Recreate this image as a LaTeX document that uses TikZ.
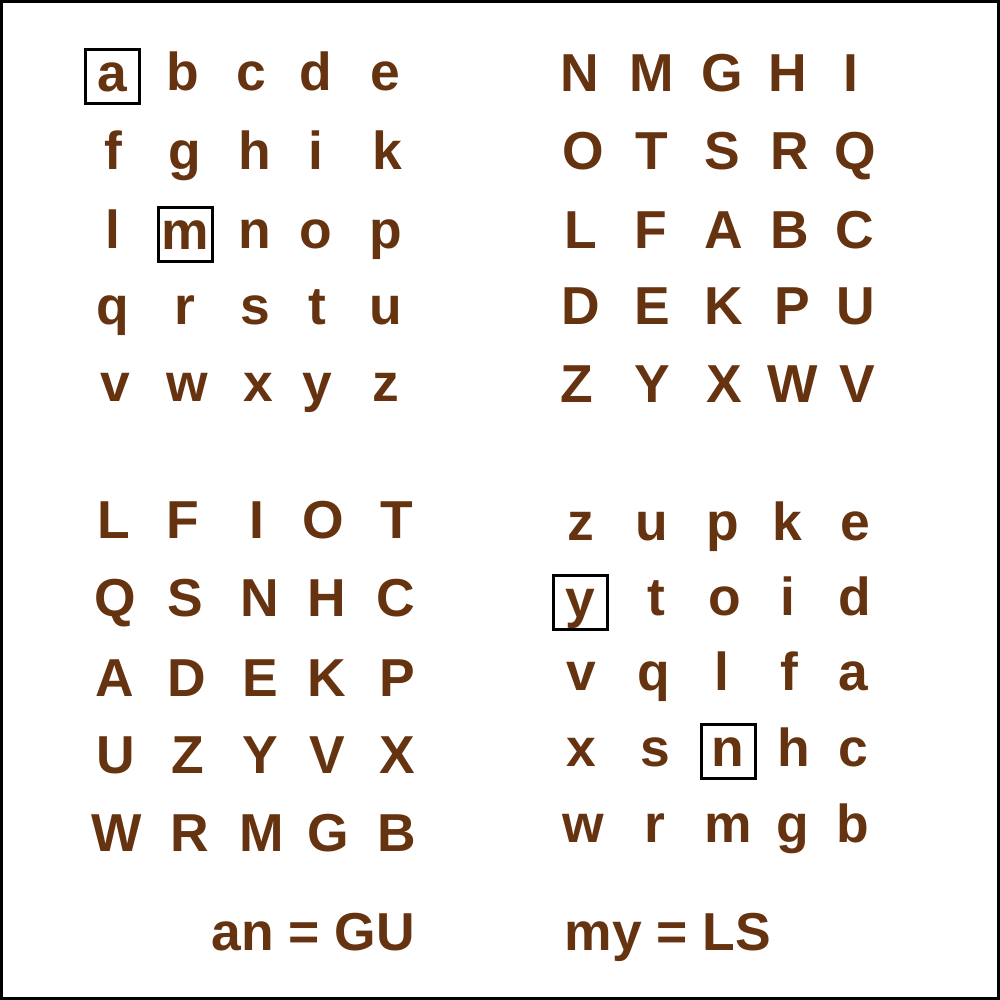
\documentclass[tikz,border=0pt]{standalone}
\usepackage{fontspec}
\setmainfont{Liberation Sans}
\usepackage{tikz}
\definecolor{cipher}{RGB}{102,51,17}
\tikzset{letter/.style={anchor=base,inner sep=0pt,text height=0.34cm,text depth=0.04cm,
   text=cipher,font=\bfseries\fontsize{15.2}{18}\selectfont},
 keybox/.style={draw=black,line width=0.3mm,minimum size=0.54cm},
 every picture/.style={line join=miter}}

\begin{document}
\begin{tikzpicture}[]
\useasboundingbox (0,0) rectangle (10,10);
\draw[line width=0.3mm] (0.015,0.015) rectangle (9.985,9.985);
% plain square, top left
\node[letter,keybox] (tla) at (1.12,9.08) {a};
\node[letter] (tlb) at (1.83,9.09) {b};
\node[letter] (tlc) at (2.51,9.09) {c};
\node[letter] (tld) at (3.16,9.09) {d};
\node[letter] (tle) at (3.85,9.09) {e};
\node[letter] (tlf) at (1.13,8.30) {f};
\node[letter] (tlg) at (1.85,8.30) {g};
\node[letter] (tlh) at (2.55,8.30) {h};
\node[letter] (tli) at (3.16,8.30) {i};
\node[letter] (tlk) at (3.87,8.30) {k};
\node[letter] (tll) at (1.13,7.51) {l};
\node[letter,keybox] (tlm) at (1.85,7.50) {m};
\node[letter] (tln) at (2.55,7.51) {n};
\node[letter] (tlo) at (3.16,7.51) {o};
\node[letter] (tlp) at (3.86,7.51) {p};
\node[letter] (tlq) at (1.13,6.75) {q};
\node[letter] (tlr) at (1.85,6.75) {r};
\node[letter] (tls) at (2.55,6.75) {s};
\node[letter] (tlt) at (3.17,6.75) {t};
\node[letter] (tlu) at (3.86,6.75) {u};
\node[letter] (tlv) at (1.15,5.98) {v};
\node[letter] (tlw) at (1.87,5.98) {w};
\node[letter] (tlx) at (2.58,5.98) {x};
\node[letter] (tly) at (3.17,5.98) {y};
\node[letter] (tlz) at (3.86,5.98) {z};
% key square, top right
\node[letter] (trN) at (5.80,9.08) {N};
\node[letter] (trM) at (6.52,9.08) {M};
\node[letter] (trG) at (7.22,9.08) {G};
\node[letter] (trH) at (7.88,9.08) {H};
\node[letter] (trI) at (8.51,9.08) {I};
\node[letter] (trO) at (5.83,8.30) {O};
\node[letter] (trT) at (6.52,8.30) {T};
\node[letter] (trS) at (7.22,8.30) {S};
\node[letter] (trR) at (7.90,8.30) {R};
\node[letter] (trQ) at (8.55,8.30) {Q};
\node[letter] (trL) at (5.81,7.51) {L};
\node[letter] (trF) at (6.51,7.51) {F};
\node[letter] (trA) at (7.24,7.51) {A};
\node[letter] (trB) at (7.90,7.51) {B};
\node[letter] (trC) at (8.55,7.51) {C};
\node[letter] (trD) at (5.81,6.75) {D};
\node[letter] (trE) at (6.52,6.75) {E};
\node[letter] (trK) at (7.24,6.75) {K};
\node[letter] (trP) at (7.92,6.75) {P};
\node[letter] (trU) at (8.56,6.75) {U};
\node[letter] (trZ) at (5.77,5.97) {Z};
\node[letter] (trY) at (6.52,5.97) {Y};
\node[letter] (trX) at (7.24,5.97) {X};
\node[letter] (trW) at (7.93,5.97) {W};
\node[letter] (trV) at (8.57,5.97) {V};
% key square, bottom left
\node[letter] (blL) at (1.14,4.61) {L};
\node[letter] (blF) at (1.83,4.61) {F};
\node[letter] (blI) at (2.57,4.61) {I};
\node[letter] (blO) at (3.23,4.61) {O};
\node[letter] (blT) at (3.97,4.61) {T};
\node[letter] (blQ) at (1.15,3.83) {Q};
\node[letter] (blS) at (1.85,3.83) {S};
\node[letter] (blN) at (2.60,3.83) {N};
\node[letter] (blH) at (3.27,3.83) {H};
\node[letter] (blC) at (3.96,3.83) {C};
\node[letter] (blA) at (1.15,3.03) {A};
\node[letter] (blD) at (1.87,3.03) {D};
\node[letter] (blE) at (2.60,3.03) {E};
\node[letter] (blK) at (3.27,3.03) {K};
\node[letter] (blP) at (3.97,3.03) {P};
\node[letter] (blU) at (1.16,2.26) {U};
\node[letter] (blZ) at (1.88,2.26) {Z};
\node[letter] (blY) at (2.60,2.26) {Y};
\node[letter] (blV) at (3.27,2.26) {V};
\node[letter] (blX) at (3.97,2.26) {X};
\node[letter] (blW) at (1.17,1.48) {W};
\node[letter] (blR) at (1.90,1.48) {R};
\node[letter] (blM) at (2.62,1.48) {M};
\node[letter] (blG) at (3.28,1.48) {G};
\node[letter] (blB) at (3.97,1.48) {B};
% plain square, bottom right
\node[letter] (brz) at (5.81,4.59) {z};
\node[letter] (bru) at (6.52,4.59) {u};
\node[letter] (brp) at (7.23,4.59) {p};
\node[letter] (brk) at (7.87,4.59) {k};
\node[letter] (bre) at (8.55,4.59) {e};
\node[letter,keybox] (bry) at (5.80,3.82) {y};
\node[letter] (brt) at (6.56,3.84) {t};
\node[letter] (bro) at (7.25,3.84) {o};
\node[letter] (bri) at (7.88,3.84) {i};
\node[letter] (brd) at (8.55,3.84) {d};
\node[letter] (brv) at (5.81,3.09) {v};
\node[letter] (brq) at (6.54,3.09) {q};
\node[letter] (brl) at (7.22,3.09) {l};
\node[letter] (brf) at (7.89,3.09) {f};
\node[letter] (bra) at (8.53,3.09) {a};
\node[letter] (brx) at (5.81,2.33) {x};
\node[letter] (brs) at (6.55,2.33) {s};
\node[letter,keybox] (brn) at (7.28,2.33) {n};
\node[letter] (brh) at (7.94,2.33) {h};
\node[letter] (brc) at (8.53,2.33) {c};
\node[letter] (brw) at (5.83,1.57) {w};
\node[letter] (brr) at (6.55,1.57) {r};
\node[letter] (brm) at (7.28,1.57) {m};
\node[letter] (brg) at (7.93,1.57) {g};
\node[letter] (brb) at (8.53,1.57) {b};
% worked pairs
\node[letter] (pairan) at (3.13,0.49) {an = GU};
\node[letter] (pairmy) at (6.68,0.49) {my = LS};
\end{tikzpicture}
\end{document}
